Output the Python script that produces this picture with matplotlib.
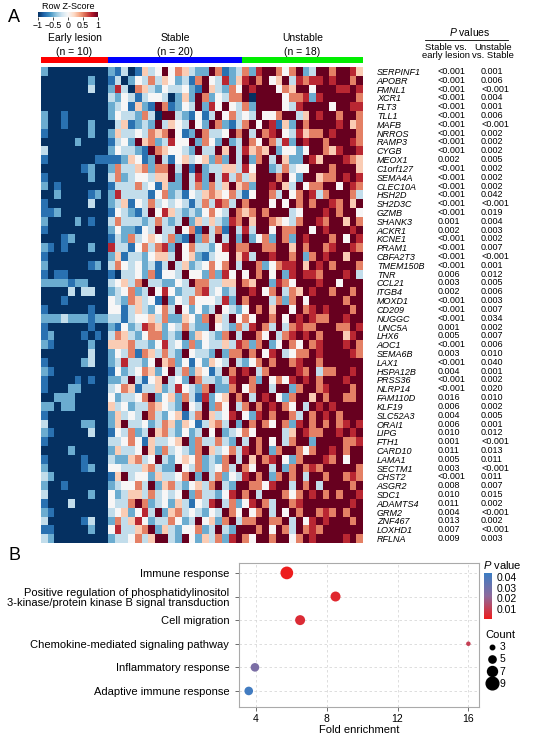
import numpy as np
import matplotlib
matplotlib.use("Agg")
import matplotlib.pyplot as plt
from matplotlib.colors import LinearSegmentedColormap, Normalize
from matplotlib.cm import ScalarMappable
from matplotlib.lines import Line2D
from matplotlib.transforms import blended_transform_factory

plt.rcParams['font.family'] = ['Liberation Sans', 'DejaVu Sans']
plt.rcParams['mathtext.fontset'] = 'custom'
plt.rcParams['mathtext.it'] = 'Liberation Sans:italic'
plt.rcParams['mathtext.rm'] = 'Liberation Sans'

W, H = 550, 736

# ---------------- panel A data ----------------
groups = ["Early lesion", "Stable", "Unstable"]
group_n = [10, 20, 18]
group_colors = ["#ff0000", "#0000ff", "#00ee00"]

genes = ["SERPINF1", "APOBR", "FMNL1", "XCR1", "FLT3", "TLL1", "MAFB", "NRROS",
         "RAMP3", "CYGB", "MEOX1", "C1orf127", "SEMA4A", "CLEC10A", "HSH2D",
         "SH2D3C", "GZMB", "SHANK3", "ACKR1", "KCNE1", "PRAM1", "CBFA2T3",
         "TMEM150B", "TNR", "CCL21", "ITGB4", "MOXD1", "CD209", "NUGGC", "UNC5A",
         "LHX6", "AOC1", "SEMA6B", "LAX1", "HSPA12B", "PRSS36", "NLRP14",
         "FAM110D", "KLF19", "SLC52A3", "ORAI1", "LIPG", "FTH1", "CARD10",
         "LAMA1", "SECTM1", "CHST2", "ASGR2", "SDC1", "ADAMTS4", "GRM2",
         "ZNF467", "LOXHD1", "RFLNA"]

p_stable_early = ["<0.001", "<0.001", "<0.001", "<0.001", "<0.001", "<0.001",
                  "<0.001", "<0.001", "<0.001", "<0.001", "0.002", "<0.001",
                  "<0.001", "<0.001", "<0.001", "<0.001", "<0.001", "0.001",
                  "0.002", "<0.001", "<0.001", "<0.001", "<0.001", "0.006",
                  "0.003", "0.002", "<0.001", "<0.001", "<0.001", "0.001",
                  "0.005", "<0.001", "0.003", "<0.001", "0.004", "<0.001",
                  "<0.001", "0.016", "0.006", "0.004", "0.006", "0.010",
                  "0.001", "0.011", "0.005", "0.003", "<0.001", "0.008",
                  "0.010", "0.011", "0.004", "0.013", "0.007", "0.009"]

p_unstable_stable = ["0.001", "0.006", "<0.001", "0.004", "0.001", "0.006",
                     "<0.001", "0.002", "0.002", "0.002", "0.005", "0.002",
                     "0.002", "0.002", "0.042", "<0.001", "0.019", "0.004",
                     "0.003", "0.002", "0.007", "<0.001", "0.001", "0.012",
                     "0.005", "0.006", "0.003", "0.007", "0.034", "0.002",
                     "0.007", "0.006", "0.010", "0.040", "0.001", "0.002",
                     "0.020", "0.010", "0.002", "0.005", "0.001", "0.012",
                     "<0.001", "0.013", "0.011", "<0.001", "0.011", "0.007",
                     "0.015", "0.002", "<0.001", "0.002", "<0.001", "0.003"]

# row z-scores, one digit per cell: 0 = -1 ... 4 = 0 ... 8 = +1
# columns: early lesion (10) | stable (20) | unstable (18)
zscore_rows = [
    "2000000000 21301534846532286123 627886468238868875",
    "0000000200 13024363542316843725 786845837677878868",
    "0000000300 27306532433421853264 878884658848887787",
    "0000000000 32431344302528624366 808888466727888886",
    "0000000000 23415218612438274843 628888437888848877",
    "2001000000 24332630883214138463 438446883587886886",
    "2001000200 03512328354384286213 684871528688887856",
    "1000000200 25334365684128633486 838678437566878886",
    "0000020000 13428562374482642823 864863728788688876",
    "3000000000 24332186544328338583 756582442488657887",
    "1000000011 11254128314534526283 826838522875888765",
    "0000001200 26335626683818233553 748823634488868885",
    "1000000200 36234435582837283736 358886842885668787",
    "2010000000 13336341522836263585 628878538466884876",
    "0020000120 27333314623143565463 148863846873688863",
    "1000000300 23514363434313637638 688848486868876858",
    "1120000000 14321384753232464386 568688834888786884",
    "2000020100 36333236323825353276 858865436887688586",
    "1000000000 24221438338461836183 738848668848788878",
    "0001200000 13263454362182638382 824628628788868487",
    "2101000200 73314636728463324786 688668858688678876",
    "1000000000 25133245538452134485 738878868268788588",
    "2000000120 36434231383523464683 886246778587868886",
    "1011000000 10334261443844262748 486848278776888783",
    "2222122000 34536833224386633558 658827648887884888",
    "0000303300 23462384742336734238 878468365878868868",
    "0001000000 43265341824364443728 688836268488888688",
    "1000000100 44135324638424238432 486858848678788868",
    "2223222122 33134453622542685384 648868487876688788",
    "1000000100 21423765243632284326 378638367668886687",
    "1200001010 36532466232825432683 886483678786888578",
    "2100000200 55563324734262433537 626824864867888786",
    "0000000300 24361653632843328266 868478346687888876",
    "1000002300 23733248562414254383 246868867886888888",
    "2100000000 14234652483625413868 783688887683668878",
    "1000010100 22383145834286332378 862846478786888788",
    "1000220000 34651335237432682268 468838826886788868",
    "0022200000 42334682452631724586 838784268858688668",
    "2202200000 53423365432843826483 686878648387878888",
    "1000000000 25343863245136853478 427868863868786888",
    "3000002200 25833423652541356382 868648627868686787",
    "2100000300 14362385632423848234 648888358766887878",
    "1000000000 33464153345826336328 386848368828888667",
    "0000200000 25334852634326853463 786826886468878688",
    "1000001000 32256348324546232683 858678426888768488",
    "2000001200 44333563228436234638 648838268676888886",
    "3200000000 15834425334682836243 786826868388688676",
    "2001000000 23446382563245368328 866478838683888868",
    "3000000200 42355363434826332478 683888646878686887",
    "1000300000 43368623425314378362 478638867888888878",
    "2100000000 34524738256343243864 846838486886768688",
    "3000001300 26357423364238452683 668866838478788868",
    "1100000200 47335682532446238328 886848638676888888",
    "3200000000 23346358832842536278 648868846878888786",
]

# ---------------- panel B data ----------------
terms = ["Immune response",
         "Positive regulation of phosphatidylinositol\n3-kinase/protein kinase B signal transduction",
         "Cell migration",
         "Chemokine-mediated signaling pathway",
         "Inflammatory response",
         "Adaptive immune response"]
fold_enrichment = [5.75, 8.5, 6.5, 16.0, 3.95, 3.6]
term_counts = [9, 7, 7, 3, 6, 6]
term_pvalues = [0.001, 0.004, 0.005, 0.010, 0.027, 0.042]
count_levels = [3, 5, 7, 9]


def rect(x0, y0, x1, y1):
    # pixel box (top-left origin) -> figure fraction rect
    return [x0 / W, 1 - y1 / H, (x1 - x0) / W, (y1 - y0) / H]


def fx(x):
    return x / W


def fy(y):
    return 1 - y / H


def count_diam(c):
    # marker diameter in points
    return (4.5 + 1.37 * (c - 3)) / 1.389


fig = plt.figure(figsize=(W / 100, H / 100), dpi=100)

# ======== A ========
fig.text(fx(8), fy(18), "A", fontsize=13, va="center", ha="left")

mat = np.array([[(int(ch) - 4) / 4 for ch in row.replace(" ", "")] for row in zscore_rows])
zcmap = plt.get_cmap("RdBu_r")

# z-score key
cax = fig.add_axes(rect(38, 12, 98, 17))
cb = fig.colorbar(ScalarMappable(Normalize(-1, 1), zcmap), cax=cax, orientation="horizontal")
cb.set_ticks([-1, -0.5, 0, 0.5, 1])
cb.set_ticklabels(["\u22121", "\u22120.5", "0", "0.5", "1"])
cb.outline.set_visible(False)
cax.tick_params(labelsize=6.3, length=2, width=0.5, pad=1)
cax.set_title("Row Z-Score", fontsize=6.5, pad=2)

# group strip
ax_g = fig.add_axes(rect(41, 57, 363, 63))
left = 0
for name, n, col in zip(groups, group_n, group_colors):
    ax_g.barh(0, n, left=left, height=1, color=col)
    tr = blended_transform_factory(ax_g.transData, fig.transFigure)
    ax_g.text(left + n / 2, fy(45), f"{name}\n(n = {n})", transform=tr,
              ha="center", va="center", fontsize=7.5, linespacing=1.45)
    left += n
ax_g.set_xlim(0, sum(group_n))
ax_g.set_ylim(-0.5, 0.5)
ax_g.axis("off")

# heatmap
ax_h = fig.add_axes(rect(41, 67, 363, 543))
ax_h.imshow(mat, cmap=zcmap, vmin=-1, vmax=1, aspect="auto", interpolation="nearest")
ax_h.set_xticks([])
ax_h.yaxis.tick_right()
ax_h.set_yticks(range(len(genes)))
ax_h.set_yticklabels(genes, fontsize=6.5, style="italic")
ax_h.tick_params(axis="y", length=0, pad=10)
for s in ax_h.spines.values():
    s.set_visible(False)

tr = blended_transform_factory(fig.transFigure, ax_h.transData)
for i, (p1, p2) in enumerate(zip(p_stable_early, p_unstable_stable)):
    ax_h.text(fx(438), i, p1, transform=tr, fontsize=6.5, va="center", ha="left")
    ax_h.text(fx(481), i, p2, transform=tr, fontsize=6.5, va="center", ha="left")

fig.text(fx(470), fy(32), "$P$ values", fontsize=7.5, ha="center", va="center")
fig.add_artist(Line2D([fx(425), fx(508)], [fy(40), fy(40)], color="black", lw=0.6))
fig.text(fx(446), fy(51.5), "Stable vs.\nearly lesion", fontsize=6.8, ha="center",
         va="center", linespacing=0.95)
fig.text(fx(493), fy(51.5), "Unstable\nvs. Stable", fontsize=6.8, ha="center",
         va="center", linespacing=0.95)

# ======== B ========
fig.text(fx(8), fy(555), "B", fontsize=13, va="center", ha="left")

pcmap = LinearSegmentedColormap.from_list("pv", ["#ee1c1c", "#8e6a9c", "#3b7dc4"])
pnorm = Normalize(0.0007, 0.0437)

ax_b = fig.add_axes(rect(239, 563, 479, 707))
ypos = np.arange(len(terms))
ax_b.scatter(fold_enrichment, ypos, s=[count_diam(c) ** 2 for c in term_counts],
             c=term_pvalues, cmap=pcmap, norm=pnorm, zorder=3, linewidths=0)
ax_b.set_xlim(3.05, 16.6)
ax_b.set_ylim(5.68, -0.42)
ax_b.set_xticks([4, 8, 12, 16])
ax_b.set_yticks(ypos)
ax_b.set_yticklabels(terms, fontsize=8, linespacing=1.1)
ax_b.tick_params(axis="x", labelsize=7.5, length=3, width=0.6, color="#555555", pad=2)
ax_b.tick_params(axis="y", length=3, width=0.6, color="#555555", pad=4)
ax_b.grid(True, linestyle=(0, (3, 3)), color="#d8d8d8", lw=0.6)
ax_b.set_axisbelow(True)
for s in ax_b.spines.values():
    s.set_color("#aaaaaa")
    s.set_linewidth(0.8)
ax_b.set_xlabel("Fold enrichment", fontsize=8, labelpad=1)

# P value colour key
pax = fig.add_axes(rect(484, 573, 492, 619))
pcb = fig.colorbar(ScalarMappable(pnorm, pcmap), cax=pax)
pcb.set_ticks([0.01, 0.02, 0.03, 0.04])
pcb.set_ticklabels(["0.01", "0.02", "0.03", "0.04"])
pcb.outline.set_visible(False)
pax.tick_params(labelsize=7.5, length=2, width=0.5, color="white", pad=1)
fig.text(fx(483), fy(565), "$P$ value", fontsize=8, ha="left", va="center")

# Count key
handles = [Line2D([], [], marker="o", ls="", color="black", markersize=count_diam(c),
                  label=str(c)) for c in count_levels]
leg = fig.legend(handles=handles, title="Count", loc="upper left",
                 bbox_to_anchor=(fx(478), fy(623)), frameon=False, fontsize=7.5,
                 title_fontsize=8, labelspacing=0.2, handletextpad=0.2,
                 handlelength=1.2, borderpad=0.2, alignment="left")

fig.savefig("out.png", dpi=100)
